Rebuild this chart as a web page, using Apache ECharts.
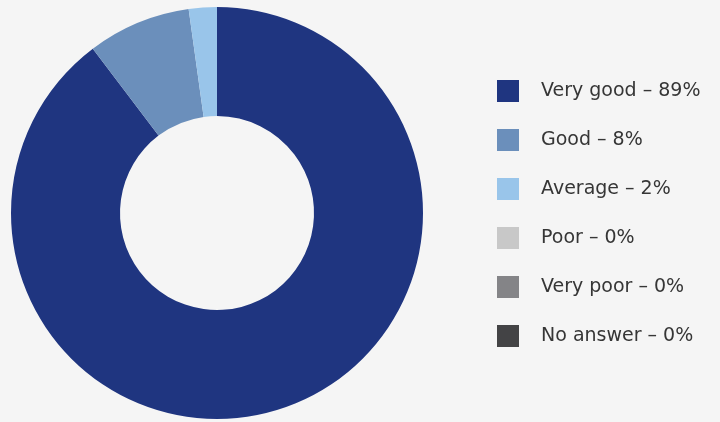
<!DOCTYPE html>
<html><head><meta charset="utf-8">
<script src="https://cdn.jsdelivr.net/npm/echarts@6/dist/echarts.min.js"></script>
<style>html,body{margin:0;padding:0;background:#f5f5f5}#c{width:720px;height:422px}</style>
</head><body><div id="c"></div>
<script>
const categories = ['Very good', 'Good', 'Average', 'Poor', 'Very poor', 'No answer'];
const sliceValues = [89.7, 8.1, 2.2, 0, 0, 0];
const labelPercents = ['89%', '8%', '2%', '0%', '0%', '0%'];
const colors = ['#1f3580', '#6b8fbb', '#99c5ea', '#c8c8c8', '#848487', '#434345'];

const chart = echarts.init(document.getElementById('c'), null, {renderer: 'canvas'});
chart.setOption({
  backgroundColor: '#f5f5f5',
  animation: false,
  color: colors,
  legend: {
    orient: 'vertical',
    left: 497,
    top: 80,
    padding: 0,
    itemWidth: 22,
    itemHeight: 22,
    itemGap: 27,
    icon: 'rect',
    selectedMode: false,
    data: categories,
    formatter: function (name) {
      return name + ' \u2013 ' + labelPercents[categories.indexOf(name)];
    },
    textStyle: {
      fontFamily: '"DejaVu Sans", sans-serif',
      fontSize: 19,
      color: '#363636',
      padding: [0, 0, 0, 17]
    }
  },
  series: [{
    type: 'pie',
    center: [217, 213],
    radius: [97, 206],
    startAngle: 90,
    clockwise: true,
    label: {show: false},
    labelLine: {show: false},
    emphasis: {disabled: true},
    itemStyle: {borderWidth: 0},
    data: categories.map((c, i) => ({name: c, value: sliceValues[i]}))
  }]
});
</script></body></html>
